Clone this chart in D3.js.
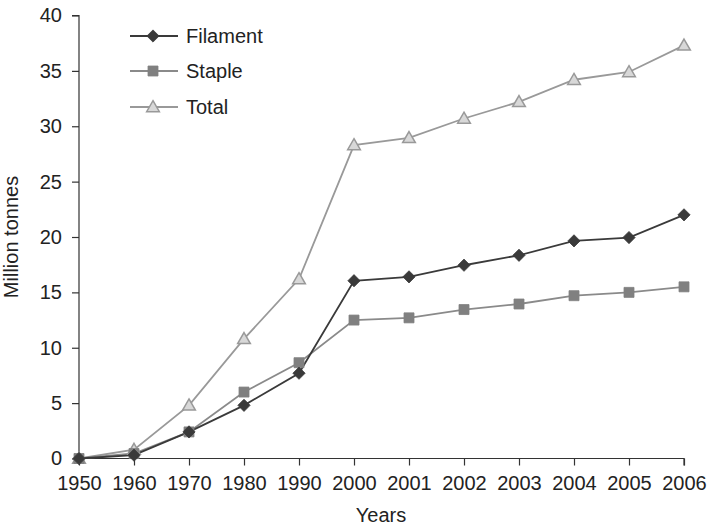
<!DOCTYPE html>
<html><head><meta charset="utf-8">
<script src="https://cdn.jsdelivr.net/npm/d3@7"></script>
<style>body{margin:0;background:#fff}svg{display:block}text{font-family:"Liberation Sans",Arial,sans-serif}</style>
</head><body><svg id="c" width="709" height="526"></svg>
<script>
const years = ["1950","1960","1970","1980","1990","2000","2001","2002","2003","2004","2005","2006"];
const filament = [0, 0.3, 2.4, 4.8, 7.7, 16.05, 16.4, 17.45, 18.35, 19.65, 19.95, 22.0];
const staple = [0, 0.45, 2.4, 6.0, 8.65, 12.5, 12.7, 13.45, 13.95, 14.7, 15.0, 15.5];
const total = [0, 0.8, 4.8, 10.8, 16.2, 28.3, 28.95, 30.7, 32.2, 34.2, 34.9, 37.3];
const yTicks = [0,5,10,15,20,25,30,35,40];
const seriesNames = ["Filament","Staple","Total"];

const svg = d3.select("#c");
const L=79, R=684, T=15.5, B=458.5;
const FS=20;
const x = d3.scalePoint().domain(years).range([L,R]).padding(0);
const y = d3.scaleLinear().domain([0,40]).range([B,T]);

const ax = svg.append("g").attr("transform",`translate(0,${B})`)
  .call(d3.axisBottom(x).tickSize(7).tickPadding(10));
const ay = svg.append("g").attr("transform",`translate(${L},0)`)
  .call(d3.axisLeft(y).tickValues(yTicks).tickSize(7).tickPadding(10));
[ax,ay].forEach(a=>{a.selectAll("path,line").attr("stroke","#333").attr("stroke-width",1.2);
  a.selectAll("text").attr("font-size",FS).attr("fill","#222").style("font-family","'Liberation Sans',Arial,sans-serif");});
ax.select(".domain").attr("d",`M${L},0H${R}V7`);
ay.select(".domain").attr("d",`M-7,${T}H0V${B}`);

svg.append("text").attr("x",381).attr("y",522).attr("text-anchor","middle").attr("font-size",FS).attr("fill","#222").text("Years");
svg.append("text").attr("transform","translate(18,237) rotate(-90)").attr("text-anchor","middle").attr("font-size",FS).attr("fill","#222").text("Million tonnes");

const diamond = {draw(ctx,size){const r=Math.sqrt(size/2);ctx.moveTo(0,-r);ctx.lineTo(r,0);ctx.lineTo(0,r);ctx.lineTo(-r,0);ctx.closePath();}};
const styles = [
  {data:filament, line:"#3a3a3a", fill:"#3a3a3a", stroke:"#3a3a3a", sym:diamond, size:75, sw:0.8},
  {data:staple, line:"#8a8a8a", fill:"#808080", stroke:"#808080", sym:d3.symbolSquare, size:100, sw:0.8},
  {data:total, line:"#999999", fill:"#d8d8d8", stroke:"#999999", sym:d3.symbolTriangle, size:70, sw:1.5}
];
const line = d3.line().x((d,i)=>x(years[i])).y(d=>y(d));
[2,1,0].forEach(k=>{
  const s=styles[k];
  svg.append("path").datum(s.data).attr("d",line).attr("fill","none").attr("stroke",s.line).attr("stroke-width",1.8);
});
[2,1,0].forEach(k=>{
  const s=styles[k];
  svg.append("g").selectAll("path").data(s.data).join("path")
    .attr("transform",(d,i)=>`translate(${x(years[i])},${y(d)+(k===2?1:0)})`)
    .attr("d",d3.symbol().type(s.sym).size(s.size))
    .attr("fill",s.fill).attr("stroke",s.stroke).attr("stroke-width",s.sw);
});
const lg = svg.append("g");
const rowY=[36,71,107];
seriesNames.forEach((n,k)=>{
  const s=styles[k]; const yy=rowY[k];
  lg.append("line").attr("x1",130).attr("x2",178).attr("y1",yy).attr("y2",yy).attr("stroke",s.line).attr("stroke-width",1.8);
  lg.append("path").attr("transform",`translate(153,${yy+(k===2?1:0)})`).attr("d",d3.symbol().type(s.sym).size(s.size))
    .attr("fill",s.fill).attr("stroke",s.stroke).attr("stroke-width",s.sw);
  lg.append("text").attr("x",186).attr("y",yy+7).attr("font-size",FS).attr("fill","#222").text(n);
});
</script></body></html>
